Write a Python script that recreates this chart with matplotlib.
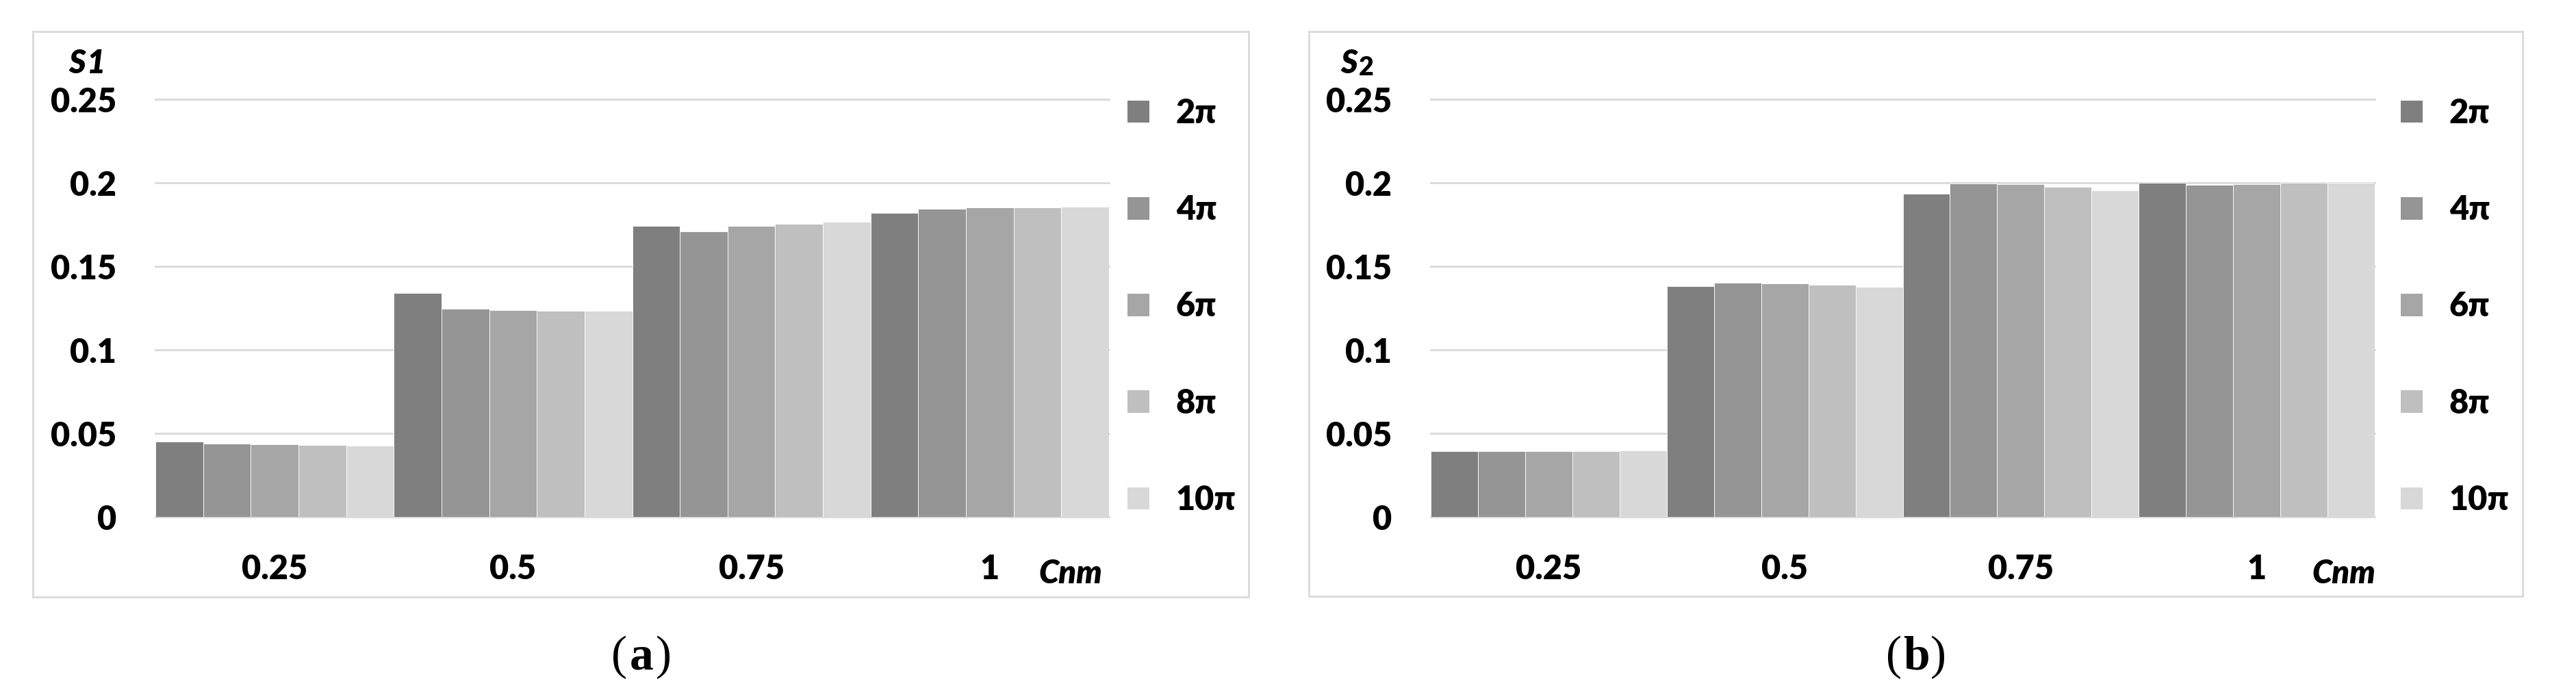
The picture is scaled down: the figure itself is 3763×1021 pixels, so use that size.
import matplotlib.pyplot as plt
import numpy as np
from matplotlib.patches import Rectangle

# data
cnm = ["0.25", "0.5", "0.75", "1"]
series = ["2π", "4π", "6π", "8π", "10π"]
s1 = [
    [0.0452, 0.1340, 0.1740, 0.1818],   # 2π
    [0.0440, 0.1247, 0.1708, 0.1844],   # 4π
    [0.0434, 0.1239, 0.1740, 0.1852],   # 6π
    [0.0431, 0.1234, 0.1756, 0.1852],   # 8π
    [0.0426, 0.1234, 0.1767, 0.1855],   # 10π
]
s2 = [
    [0.0392, 0.1383, 0.1935, 0.1999],
    [0.0392, 0.1402, 0.1994, 0.1988],
    [0.0392, 0.1399, 0.1991, 0.1991],
    [0.0394, 0.1391, 0.1975, 0.1999],
    [0.0397, 0.1378, 0.1956, 0.1999],
]
yticks = [0, 0.05, 0.1, 0.15, 0.2, 0.25]
ytick_labels = ["0", "0.05", "0.1", "0.15", "0.2", "0.25"]
colors = ["#7f7f7f", "#959595", "#a6a6a6", "#bfbfbf", "#d8d8d8"]

W, H = 3763, 1021
fig = plt.figure(figsize=(W / 100, H / 100), dpi=100)
FONT = ["Lato", "DejaVu Sans"]
GRID = "#d9d9d9"


def fx(px):
    return px / W


def fy(py):
    return 1 - py / H


def panel(box, plot, data, ylab, sub, leg_x, cnm_x, tag_x):
    bx0, bx1, by0, by1 = box
    fig.patches.append(Rectangle((fx(bx0), fy(by1)), fx(bx1 - bx0), (by1 - by0) / H,
                                 transform=fig.transFigure, fill=False,
                                 edgecolor="#dcdcdc", linewidth=2.2))
    px0, px1 = plot
    ax = fig.add_axes([fx(px0), fy(755), fx(px1 - px0), (755 - 145) / H])
    x = np.arange(len(cnm))
    w = 0.2
    for i, (name, vals) in enumerate(zip(series, data)):
        ax.bar(x + (i - 2) * w, vals, width=w, color=colors[i], label=name,
               edgecolor="white", linewidth=0.6, zorder=3)
    ax.set_xlim(-0.5, 3.5)
    ax.set_ylim(0, 0.25)
    for yv in yticks:
        ax.axhline(yv, color=GRID, linewidth=2.0, zorder=1, clip_on=False)
    ax.set_yticks(yticks, ytick_labels)
    ax.set_xticks(x, cnm)
    ax.tick_params(length=0)
    ax.tick_params(axis="y", pad=41)
    ax.tick_params(axis="x", pad=39)
    for lab in ax.get_xticklabels() + ax.get_yticklabels():
        lab.set_family(FONT)
        lab.set_fontweight("heavy")
        lab.set_fontsize(35)
    for sp in ax.spines.values():
        sp.set_visible(False)

    # axis titles
    fig.text(fx(ylab), fy(107), "S", fontsize=34, style="italic",
             fontweight="heavy", family=FONT, va="baseline", ha="left")
    if sub == "1":
        fig.text(fx(ylab + 27), fy(107), "1", fontsize=34, style="italic",
                 fontweight="heavy", family=FONT, va="baseline", ha="left")
    else:
        fig.text(fx(ylab + 27), fy(110), "2", fontsize=27,
                 fontweight="heavy", family=FONT, va="baseline", ha="left")
    fig.text(fx(cnm_x), fy(852), "Cnm", fontsize=34, style="italic",
             fontweight="heavy", family=FONT, va="baseline", ha="left")

    leg = ax.legend(loc="upper left", bbox_to_anchor=(fx(leg_x), fy(143)),
                    bbox_transform=fig.transFigure, frameon=False,
                    borderpad=0, borderaxespad=0, handlelength=0.66,
                    handleheight=0.66, handletextpad=0.8, labelspacing=1.98,
                    prop={"family": FONT, "weight": "heavy", "size": 35})
    for h in leg.legend_handles:
        h.set_edgecolor("none")

    fig.text(fx(tag_x - 32), fy(960), "(", fontsize=50, family="Liberation Serif",
             va="center", ha="center")
    fig.text(fx(tag_x), fy(960), "a" if sub == "1" else "b", fontsize=50,
             family="Liberation Serif", fontweight="bold", va="center", ha="center")
    fig.text(fx(tag_x + 32), fy(960), ")", fontsize=50, family="Liberation Serif",
             va="center", ha="center")
    return ax


panel((48, 1824, 46, 872), (227, 1620), s1, 100, "1", 1647, 1517, 937)
panel((1912, 3685, 46, 871), (2090, 3469), s2, 1958, "2", 3507, 3377, 2799)

fig.savefig("out.png", dpi=100, facecolor="white")
